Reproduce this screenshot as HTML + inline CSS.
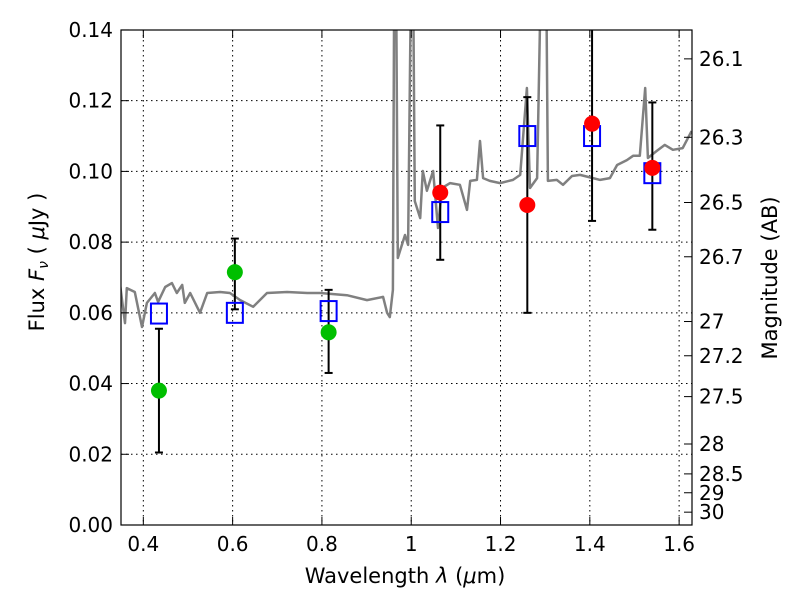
<!DOCTYPE html>
<html><head><meta charset="utf-8"><style>
body{margin:0;background:#fff}
svg{display:block;font-family:"DejaVu Sans","Liberation Sans",sans-serif}
</style></head><body>
<svg id="c" width="800" height="600" viewBox="0 0 800 600">
<defs><clipPath id="clip"><rect x="121" y="30" width="571" height="495"/></clipPath></defs>
<g id="grid"></g>
<g id="plot" clip-path="url(#clip)"></g>
<rect x="121" y="30" width="571" height="495" fill="none" stroke="#000" stroke-width="1.2"/>
<g id="axes"></g>
<text x="405" y="583" font-size="21" text-anchor="middle">Wavelength  <tspan font-style="italic">λ</tspan> (<tspan font-style="italic">μ</tspan>m)</text>
<text transform="translate(44,262) rotate(-90)" font-size="21" text-anchor="middle">Flux  <tspan font-style="italic">F<tspan font-size="14" dy="4">ν</tspan></tspan><tspan dy="-4">  ( </tspan><tspan font-style="italic">μ</tspan>Jy )</text>
<text transform="translate(777,278) rotate(-90)" font-size="21" text-anchor="middle">Magnitude (AB)</text>
</svg>
<script>
const specLam=[0.348,0.359,0.363,0.381,0.397,0.408,0.426,0.433,0.449,0.464,0.475,0.487,0.493,0.505,0.527,0.543,0.572,0.594,0.617,0.646,0.677,0.722,0.767,0.796,0.856,0.901,0.937,0.946,0.952,0.959,0.962,0.966,0.970,0.986,0.993,1.000,1.004,1.008,1.020,1.026,1.035,1.049,1.060,1.069,1.087,1.109,1.125,1.132,1.147,1.154,1.161,1.176,1.199,1.228,1.244,1.259,1.266,1.282,1.291,1.302,1.306,1.326,1.340,1.360,1.378,1.407,1.423,1.445,1.461,1.483,1.497,1.512,1.524,1.530,1.550,1.568,1.586,1.608,1.628];
const specFlux=[0.0679,0.0571,0.0670,0.0659,0.0560,0.0628,0.0656,0.0631,0.0673,0.0684,0.0656,0.0679,0.0628,0.0656,0.0600,0.0656,0.0659,0.0656,0.0636,0.0617,0.0656,0.0659,0.0656,0.0656,0.0650,0.0636,0.0645,0.0600,0.0588,0.0665,0.16,0.16,0.0755,0.0820,0.0792,0.16,0.16,0.0916,0.0868,0.1001,0.0945,0.1001,0.0840,0.0953,0.0967,0.0962,0.0891,0.0973,0.0976,0.1086,0.0981,0.0973,0.0967,0.0976,0.0990,0.1236,0.0953,0.0981,0.16,0.16,0.0973,0.0976,0.0962,0.0987,0.0990,0.0981,0.0976,0.0981,0.1018,0.1032,0.1044,0.1044,0.1236,0.1038,0.1058,0.1075,0.1061,0.1066,0.1114];
const greenLam=[0.435,0.605,0.815];
const greenFlux=[0.038,0.0715,0.0545];
const greenLo=[0.0205,0.061,0.043];
const greenHi=[0.0555,0.081,0.0665];
const blueLam=[0.435,0.605,0.815,1.065,1.26,1.405,1.54];
const blueFlux=[0.0598,0.0600,0.0605,0.0885,0.110,0.110,0.0995];
const redLam=[1.065,1.26,1.405,1.54];
const redFlux=[0.094,0.0905,0.1135,0.101];
const redLo=[0.075,0.060,0.086,0.0835];
const redHi=[0.113,0.121,0.15,0.1195];
const xTicks=[0.4,0.6,0.8,1.0,1.2,1.4,1.6];
const xTickLabels=["0.4","0.6","0.8","1","1.2","1.4","1.6"];
const yTicks=[0,0.02,0.04,0.06,0.08,0.10,0.12,0.14];
const yTickLabels=["0.00","0.02","0.04","0.06","0.08","0.10","0.12","0.14"];
const magTicks=[26.1,26.3,26.5,26.7,27,27.2,27.5,28,28.5,29,30];

const NS="http://www.w3.org/2000/svg";
const X=l=>121+(l-0.35)*446.5;
const Y=f=>525-f*3536;
function mk(tag,attrs,parent){const e=document.createElementNS(NS,tag);for(const k in attrs)e.setAttribute(k,attrs[k]);parent.appendChild(e);return e;}
const grid=document.getElementById('grid'),plot=document.getElementById('plot'),axes=document.getElementById('axes');

xTicks.forEach((t,i)=>{
 const x=X(t);
 let g=mk('line',{x1:x,x2:x,y1:30,y2:525,stroke:'#000','stroke-dasharray':'1.5,3.5','stroke-width':1},grid);
 
 
 mk('line',{x1:x,x2:x,y1:525,y2:517,stroke:'#000'},axes);
 mk('line',{x1:x,x2:x,y1:30,y2:38,stroke:'#000'},axes);
 let tx=mk('text',{x:x,y:551,'font-size':20,'text-anchor':'middle'},axes);
 tx.textContent=xTickLabels[i];
 
 
});
yTicks.forEach((t,i)=>{
 const y=Y(t);
 let g=mk('line',{x1:121,x2:692,y1:y,y2:y,stroke:'#000','stroke-dasharray':'1.5,3.5','stroke-width':1},grid);
 
 
 mk('line',{x1:121,x2:129,y1:y,y2:y,stroke:'#000'},axes);
 let tx=mk('text',{x:113,y:y+7,'font-size':20,'text-anchor':'end'},axes);
 tx.textContent=yTickLabels[i];
 
 
});
magTicks.forEach(m=>{
 const y=Y(Math.pow(10,-(m-23.9)/2.5));
 mk('line',{x1:684,x2:692,y1:y,y2:y,stroke:'#000'},axes);
 let tx=mk('text',{x:699,y:y+7,'font-size':20},axes);
 tx.textContent=String(m);
 
 
});

let d=specLam.map((l,i)=>(i?'L':'M')+X(l).toFixed(1)+','+Y(specFlux[i]).toFixed(1)).join('');
let sp=mk('path',{d:d,fill:'none',stroke:'#808080','stroke-width':2.5,'stroke-linejoin':'round'},plot);



function errbar(l,lo,hi,name){
 const x=X(l),g=mk('g',{stroke:'#000','stroke-width':2},plot);
 
 
 mk('line',{x1:x,x2:x,y1:Y(lo),y2:Y(hi)},g);
 mk('line',{x1:x-4,x2:x+4,y1:Y(lo),y2:Y(lo)},g);
 mk('line',{x1:x-4,x2:x+4,y1:Y(hi),y2:Y(hi)},g);
}
greenLam.forEach((l,i)=>errbar(l,greenLo[i],greenHi[i],'green-errorbar'));
redLam.forEach((l,i)=>errbar(l,redLo[i],redHi[i],'red-errorbar'));
blueLam.forEach((l,i)=>{
 let r=mk('rect',{x:X(l)-8,y:Y(blueFlux[i])-10,width:16,height:20,fill:'none',stroke:'#0000ff','stroke-width':2},plot);
 
 
});
greenLam.forEach((l,i)=>{
 let c=mk('circle',{cx:X(l),cy:Y(greenFlux[i]),r:8,fill:'#00bf00'},plot);
 
 
});
redLam.forEach((l,i)=>{
 let c=mk('circle',{cx:X(l),cy:Y(redFlux[i]),r:8,fill:'#ff0000'},plot);
 
 
});
</script>
</body></html>
